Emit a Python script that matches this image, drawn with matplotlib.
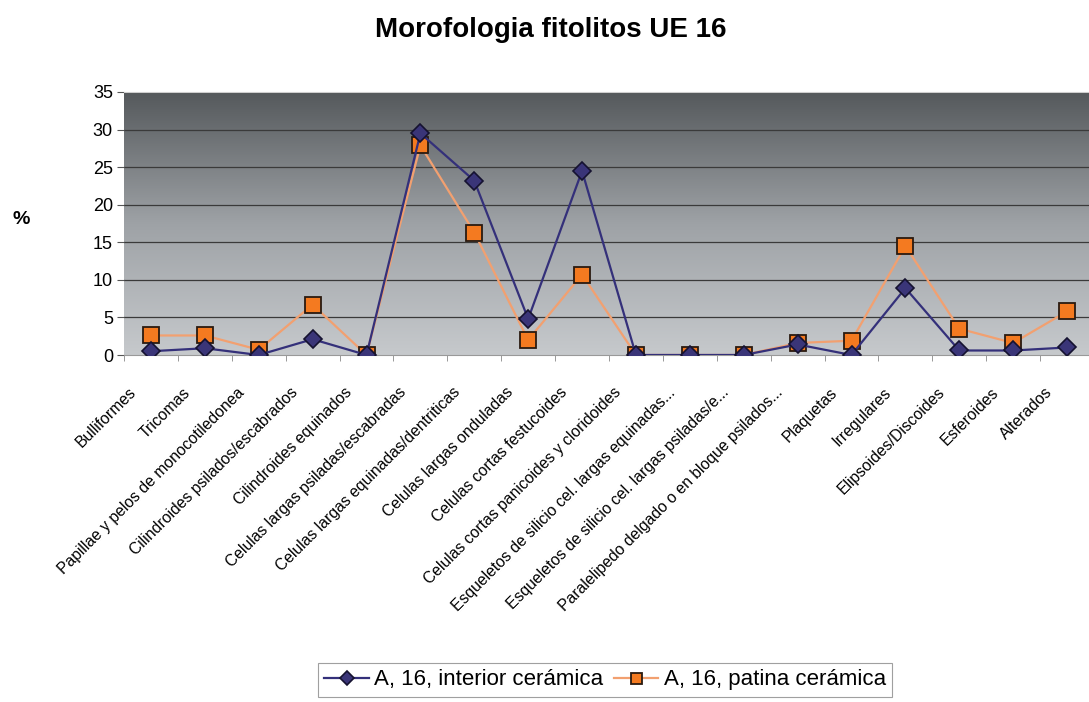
import numpy as np
import matplotlib
matplotlib.use("Agg")
import matplotlib.pyplot as plt
from matplotlib.colors import LinearSegmentedColormap
from matplotlib.transforms import ScaledTranslation

plt.rcParams['font.family'] = ['Liberation Sans', 'DejaVu Sans']

categories = [
    "Bulliformes", "Tricomas", "Papillae y pelos de monocotiledonea",
    "Cilindroides psilados/escabrados", "Cilindroides equinados",
    "Celulas largas psiladas/escabradas", "Celulas largas equinadas/dentriticas",
    "Celulas largas onduladas", "Celulas cortas festucoides",
    "Celulas cortas panicoides y cloridoides",
    "Esqueletos de silicio cel. largas equinadas...",
    "Esqueletos de silicio cel. largas psiladas/e...",
    "Paralelipedo delgado o en bloque psilados...",
    "Plaquetas", "Irregulares", "Elipsoides/Discoides", "Esferoides", "Alterados",
]
interior = [0.5, 0.9, 0.0, 2.1, 0.0, 29.5, 23.2, 4.8, 24.5, 0.0,
            0.0, 0.0, 1.4, 0.0, 8.9, 0.6, 0.6, 1.0]
patina = [2.6, 2.6, 0.7, 6.7, 0.0, 27.9, 16.3, 2.0, 10.7, 0.0,
          0.0, 0.0, 1.6, 1.9, 14.5, 3.5, 1.6, 5.8]
yticks = [0, 5, 10, 15, 20, 25, 30, 35]

W, H = 1089, 702
fig = plt.figure(figsize=(W / 100, H / 100), dpi=100)
left, right, top, bottom = 124, 1094, 92, 355
ax = fig.add_axes([left / W, 1 - bottom / H, (right - left) / W, (bottom - top) / H])

x = np.arange(len(categories))
ax.set_xlim(-0.5, len(categories) - 0.5)
ax.set_ylim(0, 35)

# vertical gray gradient behind the plot
cmap = LinearSegmentedColormap.from_list("bg", ["#c6c9cc", "#9ea2a6", "#55595c"])
grad = np.linspace(0, 1, 256).reshape(-1, 1)
ax.imshow(grad, cmap=cmap, aspect="auto", origin="lower",
          extent=[-0.5, len(categories) - 0.5, 0, 35], zorder=0)

for v in yticks[1:]:
    ax.axhline(v, color="#3a3a3a", lw=0.9, zorder=1)

ax.plot(x, patina, color="#f2a070", lw=1.6, zorder=2,
        marker="s", markersize=11, markerfacecolor="#f47a20",
        markeredgecolor="#2a1a10", markeredgewidth=1.3,
        label="A, 16, patina cerámica")
ax.plot(x, interior, color="#34307a", lw=1.6, zorder=3,
        marker="D", markersize=9.5, markerfacecolor="#3a3578",
        markeredgecolor="#151230", markeredgewidth=1.2,
        label="A, 16, interior cerámica")

ax.set_yticks(yticks)
ax.set_yticklabels([str(v) for v in yticks], fontsize=13)
ax.tick_params(axis="y", length=5, width=0.8, color="#555555", pad=3)

ax.set_xticks(x)
ax.set_xticklabels(categories, rotation=45, ha="right", va="center",
                   rotation_mode="anchor", fontsize=11.3)
ax.set_xticks(np.arange(-0.5, len(categories), 1), minor=True)
ax.tick_params(axis="x", which="major", length=0, pad=0)
ax.tick_params(axis="x", which="minor", length=4, color="#888888")
shift = ScaledTranslation(-17 / 100, -35 / 100, fig.dpi_scale_trans)
for lab in ax.get_xticklabels():
    lab.set_transform(lab.get_transform() + shift)

for s in ["left", "right"]:
    ax.spines[s].set_visible(False)
ax.spines["top"].set_color("#cfcfcf")
ax.spines["bottom"].set_color("#999999")

fig.text(551 / W, 1 - 37 / H, "Morofologia fitolitos UE 16", ha="center",
         va="baseline", fontsize=20, fontweight="bold")
fig.text(21 / W, 1 - 220 / H, "%", ha="center", va="center", fontsize=14,
         fontweight="bold")

h, l = ax.get_legend_handles_labels()
leg = fig.legend(h[::-1], l[::-1], loc="center", bbox_to_anchor=(605 / W, 1 - 680 / H),
                 ncol=2, fontsize=16, frameon=True, fancybox=False,
                 edgecolor="#888888", handlelength=2.0, handletextpad=0.25,
                 columnspacing=0.45, borderpad=0.3, borderaxespad=0,
                 markerscale=0.72)
leg.get_frame().set_linewidth(0.8)

fig.savefig("out.png", dpi=100)
